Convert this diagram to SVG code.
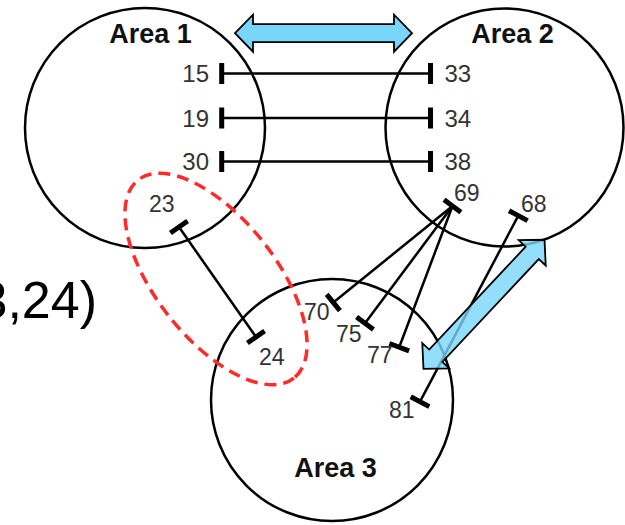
<svg xmlns="http://www.w3.org/2000/svg" width="625" height="525" viewBox="0 0 625 525">
  <style>
    .area { fill: none; stroke: #000; stroke-width: 2.5; }
    .title { font-family: "Liberation Sans", Arial, sans-serif; font-weight: bold; font-size: 27px; fill: #111; text-anchor: middle; }
    .num { font-family: "Liberation Sans", Arial, sans-serif; font-size: 24px; fill: #333; }
    .num-s { font-family: "Liberation Sans", Arial, sans-serif; font-size: 23px; fill: #333; }
    .tie { fill: none; stroke: #000; stroke-width: 2.5; }
    .tie-ends { marker-start: url(#bar); marker-end: url(#bar); }
    .tie-end { marker-end: url(#bar); }
    .flow { fill: #78D6FA; stroke: #000; stroke-width: 1.8; stroke-linejoin: miter; }
    .group-mark { fill: none; stroke: #FF2A2A; stroke-width: 3.5; stroke-dasharray: 12 7; }
  </style>
  <defs>
    <!-- thick terminal bar, perpendicular to the tie line -->
    <marker id="bar" markerUnits="userSpaceOnUse" markerWidth="10" markerHeight="24" refX="5" refY="12" orient="auto" overflow="visible">
      <rect x="2.5" y="1.5" width="5" height="21" fill="#000"/>
    </marker>
    <!-- double-headed block arrow, centred on the origin, pointing along x -->
    <path id="dbl-arrow" d="M-88.5,0 L-70.5,-18.5 L-70.5,-9 L70.5,-9 L70.5,-18.5 L88.5,0 L70.5,18.5 L70.5,9 L-70.5,9 L-70.5,18.5 Z"/>
  </defs>

  <rect width="625" height="525" fill="#fff"/>

  <!-- areas -->
  <g id="area1">
    <circle class="area" cx="145" cy="128" r="120"/>
    <text class="title" x="150.5" y="43">Area 1</text>
  </g>
  <g id="area2">
    <circle class="area" cx="504.5" cy="127.5" r="119"/>
    <text class="title" x="512.5" y="43">Area 2</text>
  </g>
  <g id="area3">
    <circle class="area" cx="332" cy="400" r="121"/>
    <text class="title" x="335.5" y="477">Area 3</text>
  </g>

  <!-- tie lines between buses -->
  <g id="connectors">
    <line class="tie tie-ends" x1="221.7" y1="73.5" x2="430.5" y2="73.5"/>
    <line class="tie tie-ends" x1="221.7" y1="118" x2="430.5" y2="118"/>
    <line class="tie tie-ends" x1="221.7" y1="161.5" x2="430.5" y2="161.5"/>
    <line class="tie tie-ends" x1="179" y1="227" x2="256" y2="337"/>
    <line class="tie tie-end" x1="452.5" y1="206" x2="333.3" y2="302.5"/>
    <line class="tie tie-ends" x1="452.5" y1="206" x2="365" y2="323.3"/>
    <line class="tie tie-end" x1="452.5" y1="206" x2="399.2" y2="347.2"/>
    <line class="tie tie-ends" x1="518.3" y1="215.7" x2="420" y2="401.7"/>
  </g>

  <!-- bus numbers -->
  <g id="bus-labels">
    <text class="num" x="209" y="82" text-anchor="end">15</text>
    <text class="num" x="209" y="126.5" text-anchor="end">19</text>
    <text class="num" x="209" y="170" text-anchor="end">30</text>
    <text class="num" x="444.5" y="82">33</text>
    <text class="num" x="444.5" y="126.5">34</text>
    <text class="num" x="444.5" y="170">38</text>
    <text class="num-s" x="149" y="212">23</text>
    <text class="num-s" x="259" y="365">24</text>
    <text class="num-s" x="454" y="200.7">69</text>
    <text class="num-s" x="521" y="211.7">68</text>
    <text class="num-s" x="304" y="320">70</text>
    <text class="num-s" x="336" y="341.7">75</text>
    <text class="num-s" x="367" y="363.3">77</text>
    <text class="num-s" x="389" y="418.3">81</text>
  </g>

  <!-- highlighted tie 23-24 -->
  <ellipse class="group-mark" cx="216" cy="279" rx="126" ry="60" transform="rotate(51.8 216 279)"/>

  <!-- exchange arrows -->
  <g id="exchange-arrows">
    <use href="#dbl-arrow" class="flow" transform="translate(323.5 33.2)"/>
    <use href="#dbl-arrow" class="flow" fill-opacity="0.8" transform="translate(484 304.3) rotate(-46.85)"/>
  </g>

  <text x="97" y="318" text-anchor="end" font-family="'Liberation Sans', Arial, sans-serif" font-size="52" fill="#000">3,24)</text>
</svg>
